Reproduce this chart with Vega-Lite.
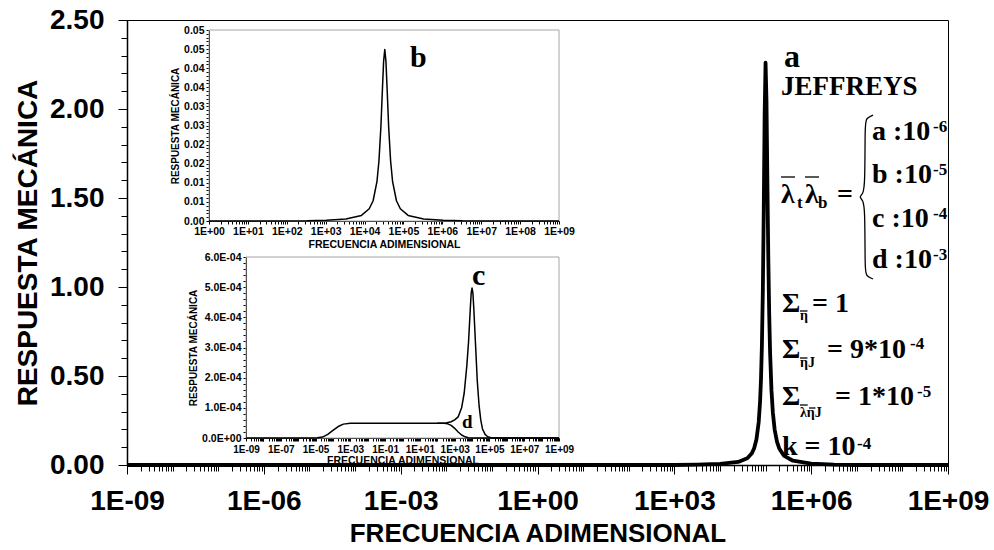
{
"$schema": "https://vega.github.io/schema/vega-lite/v6.json",
"width": 821, "height": 445,
"autosize": {"type": "none"},
"padding": {"left": 127, "top": 20, "right": 46, "bottom": 85},
"background": "white",
"config": {
  "view": {"stroke": "black", "strokeWidth": 1},
  "axis": {"grid": false, "labelFont": "Liberation Sans", "labelFontWeight": "bold", "labelColor": "black", "titleFont": "Liberation Sans", "titleFontWeight": "bold", "titleColor": "black", "tickColor": "black", "domainColor": "black", "labelOverlap": false, "labelFlush": false},
  "text": {"font": "Liberation Serif", "fontWeight": "bold", "align": "left", "baseline": "alphabetic", "color": "black"}
},
"resolve": {"scale": {"x": "independent", "y": "independent"}, "axis": {"x": "independent", "y": "independent"}},
"layer": [
  {"resolve": {"axis": {"x": "independent", "y": "independent"}},
   "layer": [
    {"data": {"values": [
      {"f":1e-9,"r":0},{"f":1000,"r":0},{"f":3162,"r":0.002},{"f":10000,"r":0.006},{"f":25119,"r":0.017},{"f":39811,"r":0.0375},{"f":50119,"r":0.066},{"f":56234,"r":0.094},{"f":63096,"r":0.143},{"f":70795,"r":0.242},{"f":75858,"r":0.357},{"f":79433,"r":0.481},{"f":83176,"r":0.671},{"f":87096,"r":0.97},{"f":91201,"r":1.42},{"f":95499,"r":1.969},{"f":100000,"r":2.26},{"f":104713,"r":2.047},{"f":109648,"r":1.596},{"f":114815,"r":1.167},{"f":120226,"r":0.848},{"f":125893,"r":0.628},{"f":134896,"r":0.419},{"f":144544,"r":0.295},{"f":158489,"r":0.198},{"f":177828,"r":0.131},{"f":199526,"r":0.093},{"f":251189,"r":0.053},{"f":398107,"r":0.024},{"f":1000000,"r":0.008},{"f":3162278,"r":0.002},{"f":10000000,"r":0},{"f":1e9,"r":0}
    ]},
    "mark": {"type": "line", "color": "black", "strokeWidth": 3.8, "strokeJoin": "round"},
    "encoding": {
      "x": {"field": "f", "type": "quantitative", "scale": {"type": "log", "domain": [1e-9, 1e9], "nice": false},
        "axis": {"orient": "bottom", "title": null, "labels": false, "tickSize": 6, "domainWidth": 1.5,
          "values": [1e-9,2e-9,3e-9,4e-9,5e-9,6e-9,7e-9,8e-9,9e-9,1e-8,2e-8,3e-8,4e-8,5e-8,6e-8,7e-8,8e-8,9e-8,1e-7,2e-7,3e-7,4e-7,5e-7,6e-7,7e-7,8e-7,9e-7,1e-6,2e-6,3e-6,4e-6,5e-6,6e-6,7e-6,8e-6,9e-6,1e-5,2e-5,3e-5,4e-5,5e-5,6e-5,7e-5,8e-5,9e-5,1e-4,2e-4,3e-4,4e-4,5e-4,6e-4,7e-4,8e-4,9e-4,1e-3,2e-3,3e-3,4e-3,5e-3,6e-3,7e-3,8e-3,9e-3,0.01,0.02,0.03,0.04,0.05,0.06,0.07,0.08,0.09,0.1,0.2,0.3,0.4,0.5,0.6,0.7,0.8,0.9,1,2,3,4,5,6,7,8,9,10,20,30,40,50,60,70,80,90,100,200,300,400,500,600,700,800,900,1000,2000,3000,4000,5000,6000,7000,8000,9000,1e4,2e4,3e4,4e4,5e4,6e4,7e4,8e4,9e4,1e5,2e5,3e5,4e5,5e5,6e5,7e5,8e5,9e5,1e6,2e6,3e6,4e6,5e6,6e6,7e6,8e6,9e6,1e7,2e7,3e7,4e7,5e7,6e7,7e7,8e7,9e7,1e8,2e8,3e8,4e8,5e8,6e8,7e8,8e8,9e8,1e9]
        }},
      "y": {"field": "r", "type": "quantitative", "scale": {"domain": [0, 2.5], "nice": false},
        "axis": {"orient": "left", "title": null, "labels": false, "tickSize": 6, "domainWidth": 1.5,
          "values": [0,0.1,0.2,0.3,0.4,0.5,0.6,0.7,0.8,0.9,1,1.1,1.2,1.3,1.4,1.5,1.6,1.7,1.8,1.9,2,2.1,2.2,2.3,2.4,2.5]
        }}
    }},
    {"data": {"values": [
      {"i":1,"f":2.270e7,"r":1.966},{"i":2,"f":1.592e7,"r":1.949},{"i":3,"f":1.514e7,"r":1.91},{"i":4,"f":1.514e7,"r":1.573},{"i":5,"f":1.368e7,"r":1.522},{"i":6,"f":1.119e7,"r":1.506},{"i":7,"f":1.368e7,"r":1.489},{"i":8,"f":1.514e7,"r":1.438},{"i":9,"f":1.514e7,"r":1.096},{"i":10,"f":1.592e7,"r":1.062},{"i":11,"f":2.270e7,"r":1.045}
    ]},
    "mark": {"type": "line", "color": "black", "strokeWidth": 1.3, "interpolate": "basis"},
    "encoding": {
      "x": {"field": "f", "type": "quantitative",
        "axis": {"orient": "bottom", "title": "FRECUENCIA ADIMENSIONAL", "titleFontSize": 26, "titlePadding": 5, "labelFontSize": 28, "labelPadding": 13, "tickSize": 9, "domain": false,
          "values": [1e-9,1e-6,1e-3,1,1000,1e6,1e9],
          "labelExpr": "'1E' + (round(log(datum.value)/LN10) < 0 ? '-' : '+') + '0' + abs(round(log(datum.value)/LN10))"
        }},
      "y": {"field": "r", "type": "quantitative",
        "axis": {"orient": "left", "title": "RESPUESTA MECÁNICA", "titleFontSize": 28, "titlePadding": 7, "labelFontSize": 28, "labelPadding": 14, "tickSize": 9, "domain": false,
          "values": [0,0.5,1,1.5,2,2.5], "format": ".2f"
        }},
      "order": {"field": "i"}}},
    {"data": {"values": [
      {"f":218300,"f2":442600,"r":1.618},{"f":732800,"f2":1486000,"r":1.618},
      {"f":568900,"f2":830000,"r":0.8652},{"f":568900,"f2":830000,"r":0.6011},
      {"f":568900,"f2":839500,"r":0.3371},{"f":895400,"f2":1245000,"r":0.3202}
    ]},
     "mark": {"type": "rule", "color": "black", "strokeWidth": 1.3},
     "encoding": {"x": {"field": "f", "type": "quantitative", "axis": null}, "x2": {"field": "f2"}, "y": {"field": "r", "type": "quantitative", "axis": null}}},
    {"data": {"values": [{"f":253500,"r":2.236,"t":"a"}]},
     "mark": {"type": "text", "fontSize": 32},
     "encoding": {"x": {"field": "f", "type": "quantitative", "axis": null}, "y": {"field": "r", "type": "quantitative", "axis": null}, "text": {"field": "t"}}},
    {"data": {"values": [{"f":218300,"r":2.0787,"t":"JEFFREYS"}]},
     "mark": {"type": "text", "fontSize": 27},
     "encoding": {"x": {"field": "f", "type": "quantitative", "axis": null}, "y": {"field": "r", "type": "quantitative", "axis": null}, "text": {"field": "t"}}},
    {"data": {"values": [
      {"f":218300,"r":1.4719,"t":"λ"},{"f":732800,"r":1.4719,"t":"λ"},{"f":3681000,"r":1.4719,"t":"="},
      {"f":21580000,"r":1.8258,"t":"a :10"},{"f":21580000,"r":1.5843,"t":"b :10"},{"f":21580000,"r":1.3371,"t":"c :10"},{"f":21580000,"r":1.1067,"t":"d :10"},
      {"f":229100,"r":0.8596,"t":"Σ"},{"f":1042000,"r":0.8596,"t":"= 1"},
      {"f":229100,"r":0.6011,"t":"Σ"},{"f":2223000,"r":0.6011,"t":"= 9*10"},
      {"f":229100,"r":0.3371,"t":"Σ"},{"f":3334000,"r":0.3371,"t":"= 1*10"},
      {"f":229100,"r":0.0562,"t":"k = 10"}
    ]},
     "mark": {"type": "text", "fontSize": 28},
     "encoding": {"x": {"field": "f", "type": "quantitative", "axis": null}, "y": {"field": "r", "type": "quantitative", "axis": null}, "text": {"field": "t"}}},
    {"data": {"values": [
      {"f":468800000,"r":1.8708,"t":"-6"},{"f":468800000,"r":1.6292,"t":"-5"},{"f":468800000,"r":1.382,"t":"-4"},{"f":468800000,"r":1.1517,"t":"-3"},
      {"f":146900000,"r":0.6517,"t":"-4"},{"f":208900000,"r":0.382,"t":"-5"},{"f":10120000,"r":0.0899,"t":"-4"},
      {"f":488700,"r":1.4438,"t":"t"},{"f":1413000,"r":1.4438,"t":"b"}
    ]},
     "mark": {"type": "text", "fontSize": 17},
     "encoding": {"x": {"field": "f", "type": "quantitative", "axis": null}, "y": {"field": "r", "type": "quantitative", "axis": null}, "text": {"field": "t"}}},
    {"data": {"values": [
      {"f":568900,"r":0.8146,"t":"η"},{"f":568900,"r":0.5506,"t":"ηJ"},{"f":568900,"r":0.2697,"t":"ληJ"}
    ]},
     "mark": {"type": "text", "fontSize": 14},
     "encoding": {"x": {"field": "f", "type": "quantitative", "axis": null}, "y": {"field": "r", "type": "quantitative", "axis": null}, "text": {"field": "t"}}},
    {"data": {"values": [{"f":0.001603,"r":2.236,"t":"b"},{"f":0.03664,"r":1.0112,"t":"c"}]},
     "mark": {"type": "text", "fontSize": 30},
     "encoding": {"x": {"field": "f", "type": "quantitative", "axis": null}, "y": {"field": "r", "type": "quantitative", "axis": null}, "text": {"field": "t"}}},
    {"data": {"values": [{"f":0.02213,"r":0.2079,"t":"d"}]},
     "mark": {"type": "text", "fontSize": 19},
     "encoding": {"x": {"field": "f", "type": "quantitative", "axis": null}, "y": {"field": "r", "type": "quantitative", "axis": null}, "text": {"field": "t"}}}
  ]},
  {"resolve": {"axis": {"x": "independent", "y": "independent"}},
   "layer": [
    {"data": {"values": [{}]},
     "mark": {"type": "rect", "fill": null, "stroke": "#a6a6a6", "strokeWidth": 1},
     "encoding": {"x": {"datum": 1, "type": "quantitative", "axis": null}, "x2": {"datum": 1e9}, "y": {"datum": 0, "type": "quantitative", "axis": null}, "y2": {"datum": 0.05}}},
    {"data": {"values": [
      {"f":1,"r":0},{"f":331,"r":0.00005},{"f":1047,"r":0.0002},{"f":3311,"r":0.00053},{"f":8318,"r":0.00146},{"f":13183,"r":0.0032},{"f":16596,"r":0.0053},{"f":20893,"r":0.0104},{"f":23442,"r":0.0157},{"f":26303,"r":0.0246},{"f":28840,"r":0.0346},{"f":30903,"r":0.0418},{"f":33113,"r":0.0449},{"f":35481,"r":0.0418},{"f":38019,"r":0.0346},{"f":41687,"r":0.0246},{"f":46774,"r":0.0157},{"f":52481,"r":0.0104},{"f":66069,"r":0.0053},{"f":83176,"r":0.0032},{"f":131826,"r":0.00146},{"f":331131,"r":0.00053},{"f":1047129,"r":0.0002},{"f":3311311,"r":0.00005},{"f":1e9,"r":0}
    ]},
    "mark": {"type": "line", "color": "black", "strokeWidth": 1.5, "strokeJoin": "round"},
    "encoding": {
      "x": {"field": "f", "type": "quantitative", "scale": {"type": "log", "domain": [1, 1e9], "range": [82, 432], "nice": false},
        "axis": {"orient": "bottom", "offset": -244, "title": "FRECUENCIA ADIMENSIONAL", "titleFontSize": 10.5, "titlePadding": 3, "labelFontSize": 10.5, "labelPadding": 2, "tickSize": 3, "domainWidth": 1,
          "values": [1,2,3,4,5,6,7,8,9,10,20,30,40,50,60,70,80,90,100,200,300,400,500,600,700,800,900,1000,2000,3000,4000,5000,6000,7000,8000,9000,1e4,2e4,3e4,4e4,5e4,6e4,7e4,8e4,9e4,1e5,2e5,3e5,4e5,5e5,6e5,7e5,8e5,9e5,1e6,2e6,3e6,4e6,5e6,6e6,7e6,8e6,9e6,1e7,2e7,3e7,4e7,5e7,6e7,7e7,8e7,9e7,1e8,2e8,3e8,4e8,5e8,6e8,7e8,8e8,9e8,1e9],
          "labelExpr": "abs(log(datum.value)/LN10 - round(log(datum.value)/LN10)) < 1e-6 ? '1E+0' + round(log(datum.value)/LN10) : ''"
        }},
      "y": {"field": "r", "type": "quantitative", "scale": {"domain": [0, 0.05], "range": [201, 10], "nice": false, "zero": false},
        "axis": {"orient": "left", "offset": -82, "title": "RESPUESTA MECÁNICA", "titleFontSize": 10, "titlePadding": 3, "labelFontSize": 10.5, "labelPadding": 2, "tickSize": 3, "domainWidth": 1,
          "values": [0,0.001,0.002,0.003,0.004,0.005,0.006,0.007,0.008,0.009,0.01,0.011,0.012,0.013,0.014,0.015,0.016,0.017,0.018,0.019,0.02,0.021,0.022,0.023,0.024,0.025,0.026,0.027,0.028,0.029,0.03,0.031,0.032,0.033,0.034,0.035,0.036,0.037,0.038,0.039,0.04,0.041,0.042,0.043,0.044,0.045,0.046,0.047,0.048,0.049,0.05],
          "labelExpr": "abs(datum.value*200 - round(datum.value*200)) < 1e-6 ? format(datum.value + 1e-9, '.2f') : ''"
        }}
    }}
  ]},
  {"resolve": {"axis": {"x": "independent", "y": "independent"}},
   "layer": [
    {"data": {"values": [{}]},
     "mark": {"type": "rect", "fill": null, "stroke": "#a6a6a6", "strokeWidth": 1},
     "encoding": {"x": {"datum": 1e-9, "type": "quantitative", "axis": null}, "x2": {"datum": 1e9}, "y": {"datum": 0, "type": "quantitative", "axis": null}, "y2": {"datum": 0.0006}}},
    {"data": {"values": [
      {"f":1e-9,"r":0},{"f":6.31e-6,"r":0},{"f":1.259e-5,"r":0.0000005},{"f":2.512e-5,"r":0.000003},{"f":5.012e-5,"r":0.000012},{"f":1e-4,"r":0.000025},{"f":1.995e-4,"r":0.000038},{"f":3.981e-4,"r":0.000046},{"f":1e-3,"r":0.0000485},{"f":0.01,"r":0.000049},{"f":100,"r":0.000049},{"f":316.2,"r":0.00005},{"f":631,"r":0.000054},{"f":1000,"r":0.00006},{"f":1585,"r":0.00007},{"f":2512,"r":0.0001},{"f":3548,"r":0.00015},{"f":5012,"r":0.00024},{"f":6310,"r":0.00032},{"f":7943,"r":0.00043},{"f":8913,"r":0.00048},{"f":10000,"r":0.000497},{"f":11220,"r":0.00048},{"f":12589,"r":0.00043},{"f":15849,"r":0.00031},{"f":19953,"r":0.00019},{"f":25119,"r":0.00011},{"f":31623,"r":0.00006},{"f":39811,"r":0.00003},{"f":56234,"r":0.000012},{"f":79433,"r":0.000004},{"f":125893,"r":0.000001},{"f":316228,"r":0},{"f":1e9,"r":0}
    ]},
    "mark": {"type": "line", "color": "black", "strokeWidth": 1.5, "strokeJoin": "round"},
    "encoding": {
      "x": {"field": "f", "type": "quantitative", "scale": {"type": "log", "domain": [1e-9, 1e9], "range": [119, 432], "nice": false},
        "axis": {"orient": "bottom", "offset": -27, "title": "FRECUENCIA ADIMENSIONAL", "titleFontSize": 10.5, "titlePadding": 1, "labelFontSize": 10, "labelPadding": 3, "tickSize": 3, "domainWidth": 1,
          "values": [1e-9,2e-9,3e-9,4e-9,5e-9,6e-9,7e-9,8e-9,9e-9,1e-8,2e-8,3e-8,4e-8,5e-8,6e-8,7e-8,8e-8,9e-8,1e-7,2e-7,3e-7,4e-7,5e-7,6e-7,7e-7,8e-7,9e-7,1e-6,2e-6,3e-6,4e-6,5e-6,6e-6,7e-6,8e-6,9e-6,1e-5,2e-5,3e-5,4e-5,5e-5,6e-5,7e-5,8e-5,9e-5,1e-4,2e-4,3e-4,4e-4,5e-4,6e-4,7e-4,8e-4,9e-4,1e-3,2e-3,3e-3,4e-3,5e-3,6e-3,7e-3,8e-3,9e-3,0.01,0.02,0.03,0.04,0.05,0.06,0.07,0.08,0.09,0.1,0.2,0.3,0.4,0.5,0.6,0.7,0.8,0.9,1,2,3,4,5,6,7,8,9,10,20,30,40,50,60,70,80,90,100,200,300,400,500,600,700,800,900,1000,2000,3000,4000,5000,6000,7000,8000,9000,1e4,2e4,3e4,4e4,5e4,6e4,7e4,8e4,9e4,1e5,2e5,3e5,4e5,5e5,6e5,7e5,8e5,9e5,1e6,2e6,3e6,4e6,5e6,6e6,7e6,8e6,9e6,1e7,2e7,3e7,4e7,5e7,6e7,7e7,8e7,9e7,1e8,2e8,3e8,4e8,5e8,6e8,7e8,8e8,9e8,1e9],
          "labelExpr": "abs(log(datum.value)/LN10 - round(log(datum.value)/LN10)) < 1e-6 && abs(round(log(datum.value)/LN10)) % 2 == 1 ? '1E' + (round(log(datum.value)/LN10) < 0 ? '-' : '+') + '0' + abs(round(log(datum.value)/LN10)) : ''"
        }},
      "y": {"field": "r", "type": "quantitative", "scale": {"domain": [0, 0.0006], "range": [418, 237], "nice": false, "zero": false},
        "axis": {"orient": "left", "offset": -119, "title": "RESPUESTA MECÁNICA", "titleFontSize": 10, "titlePadding": 3, "labelFontSize": 10.5, "labelPadding": 2, "tickSize": 3, "domainWidth": 1,
          "values": [0,2e-5,4e-5,6e-5,8e-5,1e-4,1.2e-4,1.4e-4,1.6e-4,1.8e-4,2e-4,2.2e-4,2.4e-4,2.6e-4,2.8e-4,3e-4,3.2e-4,3.4e-4,3.6e-4,3.8e-4,4e-4,4.2e-4,4.4e-4,4.6e-4,4.8e-4,5e-4,5.2e-4,5.4e-4,5.6e-4,5.8e-4,6e-4],
          "labelExpr": "abs(datum.value*1e4 - round(datum.value*1e4)) < 1e-6 ? (datum.value == 0 ? '0.0E+00' : format(datum.value*1e4, '.1f') + 'E-04') : ''"
        }}
    }},
    {"data": {"values": [
      {"f":100,"r":0.000049},{"f":251,"r":0.000049},{"f":398,"r":0.000047},{"f":631,"r":0.000042},{"f":1000,"r":0.000032},{"f":1585,"r":0.00002},{"f":2512,"r":0.00001},{"f":3981,"r":0.000004},{"f":6310,"r":0.000001},{"f":10000,"r":0},{"f":1e9,"r":0}
    ]},
    "mark": {"type": "line", "color": "black", "strokeWidth": 1.5, "strokeJoin": "round"},
    "encoding": {"x": {"field": "f", "type": "quantitative", "axis": null}, "y": {"field": "r", "type": "quantitative", "axis": null}}}
  ]}
]
}
